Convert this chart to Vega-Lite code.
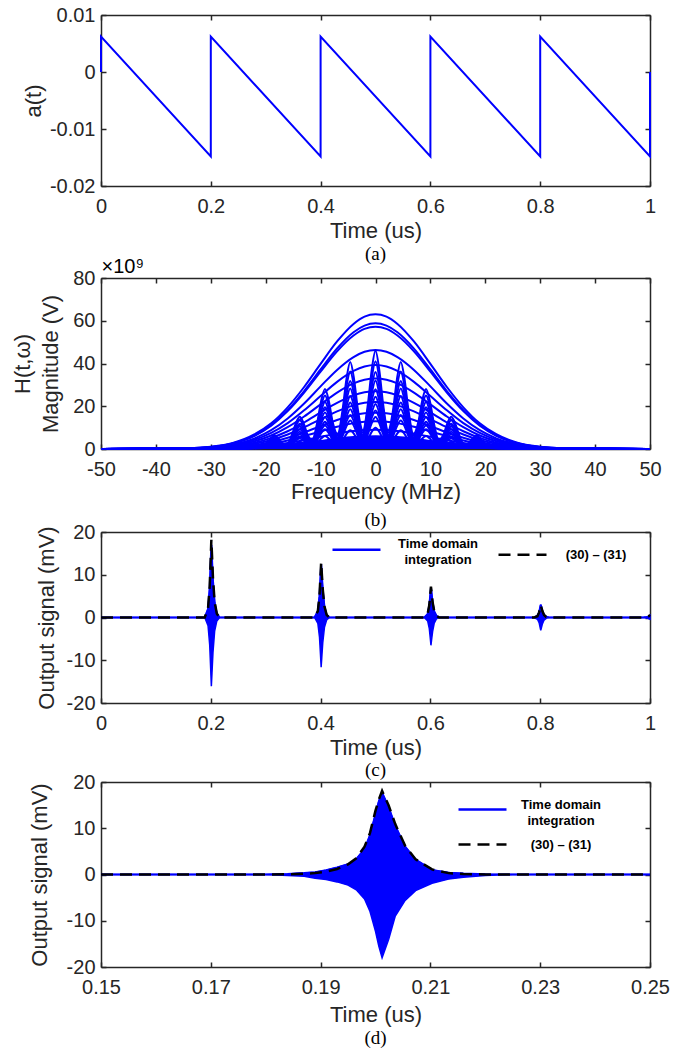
{
"$schema": "https://vega.github.io/schema/vega-lite/v6.json",
"background": "white",
"padding": {"left": 11, "top": 5, "right": 8, "bottom": 5},
"spacing": -8,
"resolve": {"scale": {"color": "independent"}, "legend": {"color": "independent"}},
"config": {
  "view": {"stroke": null},
  "font": "Liberation Sans",
  "axis": {"grid": false, "labelFont": "Liberation Sans", "labelFontSize": 20, "labelColor": "#262626", "titleFont": "Liberation Sans", "titleFontSize": 22, "titleFontWeight": "normal", "titleColor": "#262626", "domainColor": "#262626", "domainWidth": 1.5, "tickColor": "#262626", "tickWidth": 1.5, "tickSize": -5, "labelFlush": false, "labelOverlap": false, "labelBound": false},
  "axisX": {"labelPadding": 15, "titlePadding": 4},
  "axisY": {"labelPadding": 11, "titlePadding": 4},
  "title": {"orient": "bottom", "font": "Liberation Serif", "fontSize": 19, "fontWeight": "normal", "color": "#000000", "anchor": "middle", "frame": "group", "offset": 0},
  "legend": {"padding": 0, "symbolType": "stroke", "symbolSize": 2304, "symbolStrokeWidth": 2.5, "labelFont": "Liberation Sans", "labelFontSize": 13, "labelFontWeight": "bold", "labelColor": "#000000", "labelAlign": "center", "labelOffset": 56, "labelLimit": 300, "labelBaseline": "middle"}
},
"datasets": {
  "saw": [
    {"i":0,"t":0,"a":0},{"i":1,"t":0,"a":0.0062},{"i":2,"t":0.2,"a":-0.0148},{"i":3,"t":0.2,"a":0.0062},{"i":4,"t":0.4,"a":-0.0148},{"i":5,"t":0.4,"a":0.0062},{"i":6,"t":0.6,"a":-0.0148},{"i":7,"t":0.6,"a":0.0062},{"i":8,"t":0.8,"a":-0.0148},{"i":9,"t":0.8,"a":0.0062},{"i":10,"t":1,"a":-0.0148},{"i":11,"t":1,"a":0}
  ],
  "gauss": [
    {"f":-50,"g63":0,"g59":0,"g57":0,"g46":0,"g39":0,"g33":0,"g27":0,"g22":0,"g17":0,"g13":0,"g9":0,"g6":0,"g3":0},
    {"f":-34,"g63":0.3,"g59":0.3,"g57":0.3,"g46":0.2,"g39":0.2,"g33":0.2,"g27":0.1,"g22":0.1,"g17":0.1,"g13":0.1,"g9":0,"g6":0,"g3":0},
    {"f":-30,"g63":1.0,"g59":0.9,"g57":0.9,"g46":0.7,"g39":0.6,"g33":0.5,"g27":0.4,"g22":0.4,"g17":0.3,"g13":0.2,"g9":0.1,"g6":0.1,"g3":0},
    {"f":-26,"g63":2.8,"g59":2.6,"g57":2.6,"g46":2.1,"g39":1.8,"g33":1.5,"g27":1.2,"g22":1.0,"g17":0.8,"g13":0.6,"g9":0.4,"g6":0.3,"g3":0.1},
    {"f":-22,"g63":6.9,"g59":6.4,"g57":6.2,"g46":5.0,"g39":4.3,"g33":3.6,"g27":2.9,"g22":2.4,"g17":1.9,"g13":1.4,"g9":1.0,"g6":0.7,"g3":0.3},
    {"f":-19,"g63":12.0,"g59":11.2,"g57":10.9,"g46":8.8,"g39":7.5,"g33":6.3,"g27":5.2,"g22":4.2,"g17":3.2,"g13":2.5,"g9":1.7,"g6":1.1,"g3":0.6},
    {"f":-16,"g63":19.5,"g59":18.2,"g57":17.7,"g46":14.3,"g39":12.1,"g33":10.2,"g27":8.3,"g22":6.8,"g17":5.3,"g13":4.0,"g9":2.8,"g6":1.9,"g3":0.9},
    {"f":-13,"g63":29.0,"g59":27.1,"g57":26.4,"g46":21.3,"g39":18.1,"g33":15.2,"g27":12.4,"g22":10.1,"g17":7.8,"g13":6.0,"g9":4.1,"g6":2.8,"g3":1.4},
    {"f":-10,"g63":39.8,"g59":37.2,"g57":36.2,"g46":29.3,"g39":24.8,"g33":20.9,"g27":17.1,"g22":13.9,"g17":10.7,"g13":8.2,"g9":5.7,"g6":3.8,"g3":1.9},
    {"f":-7,"g63":50.3,"g59":47.0,"g57":45.7,"g46":37.0,"g39":31.4,"g33":26.4,"g27":21.6,"g22":17.6,"g17":13.6,"g13":10.4,"g9":7.2,"g6":4.8,"g3":2.4},
    {"f":-4,"g63":58.5,"g59":54.6,"g57":53.1,"g46":43.0,"g39":36.5,"g33":30.7,"g27":25.1,"g22":20.4,"g17":15.8,"g13":12.1,"g9":8.4,"g6":5.6,"g3":2.8},
    {"f":-2,"g63":61.9,"g59":57.7,"g57":56.2,"g46":45.5,"g39":38.6,"g33":32.4,"g27":26.5,"g22":21.6,"g17":16.7,"g13":12.8,"g9":8.8,"g6":5.9,"g3":2.9},
    {"f":0,"g63":63,"g59":58.8,"g57":57.2,"g46":46.3,"g39":39.3,"g33":33,"g27":27,"g22":22,"g17":17,"g13":13,"g9":9,"g6":6,"g3":3},
    {"f":2,"g63":61.9,"g59":57.7,"g57":56.2,"g46":45.5,"g39":38.6,"g33":32.4,"g27":26.5,"g22":21.6,"g17":16.7,"g13":12.8,"g9":8.8,"g6":5.9,"g3":2.9},
    {"f":4,"g63":58.5,"g59":54.6,"g57":53.1,"g46":43.0,"g39":36.5,"g33":30.7,"g27":25.1,"g22":20.4,"g17":15.8,"g13":12.1,"g9":8.4,"g6":5.6,"g3":2.8},
    {"f":7,"g63":50.3,"g59":47.0,"g57":45.7,"g46":37.0,"g39":31.4,"g33":26.4,"g27":21.6,"g22":17.6,"g17":13.6,"g13":10.4,"g9":7.2,"g6":4.8,"g3":2.4},
    {"f":10,"g63":39.8,"g59":37.2,"g57":36.2,"g46":29.3,"g39":24.8,"g33":20.9,"g27":17.1,"g22":13.9,"g17":10.7,"g13":8.2,"g9":5.7,"g6":3.8,"g3":1.9},
    {"f":13,"g63":29.0,"g59":27.1,"g57":26.4,"g46":21.3,"g39":18.1,"g33":15.2,"g27":12.4,"g22":10.1,"g17":7.8,"g13":6.0,"g9":4.1,"g6":2.8,"g3":1.4},
    {"f":16,"g63":19.5,"g59":18.2,"g57":17.7,"g46":14.3,"g39":12.1,"g33":10.2,"g27":8.3,"g22":6.8,"g17":5.3,"g13":4.0,"g9":2.8,"g6":1.9,"g3":0.9},
    {"f":19,"g63":12.0,"g59":11.2,"g57":10.9,"g46":8.8,"g39":7.5,"g33":6.3,"g27":5.2,"g22":4.2,"g17":3.2,"g13":2.5,"g9":1.7,"g6":1.1,"g3":0.6},
    {"f":22,"g63":6.9,"g59":6.4,"g57":6.2,"g46":5.0,"g39":4.3,"g33":3.6,"g27":2.9,"g22":2.4,"g17":1.9,"g13":1.4,"g9":1.0,"g6":0.7,"g3":0.3},
    {"f":26,"g63":2.8,"g59":2.6,"g57":2.6,"g46":2.1,"g39":1.8,"g33":1.5,"g27":1.2,"g22":1.0,"g17":0.8,"g13":0.6,"g9":0.4,"g6":0.3,"g3":0.1},
    {"f":30,"g63":1.0,"g59":0.9,"g57":0.9,"g46":0.7,"g39":0.6,"g33":0.5,"g27":0.4,"g22":0.4,"g17":0.3,"g13":0.2,"g9":0.1,"g6":0.1,"g3":0},
    {"f":34,"g63":0.3,"g59":0.3,"g57":0.3,"g46":0.2,"g39":0.2,"g33":0.2,"g27":0.1,"g22":0.1,"g17":0.1,"g13":0.1,"g9":0,"g6":0,"g3":0},
    {"f":50,"g63":0,"g59":0,"g57":0,"g46":0,"g39":0,"g33":0,"g27":0,"g22":0,"g17":0,"g13":0,"g9":0,"g6":0,"g3":0}
  ],
  "lobes": [
    {"f":-50,"L46":0,"L41":0,"L36":0,"L32":0,"L28":0,"L24":0,"L21":0,"L18":0,"L15":0,"L10":0},
    {"f":-25,"L46":0.4,"L41":0.35,"L36":0.3,"L32":0.3,"L28":0.2,"L24":0.2,"L21":0.2,"L18":0.2,"L15":0.1,"L10":0.1},
    {"f":-19.8,"L46":2.8,"L41":2.5,"L36":2.3,"L32":2.0,"L28":1.8,"L24":1.5,"L21":1.3,"L18":1.1,"L15":0.9,"L10":0.6},
    {"f":-19.1,"L46":5.0,"L41":4.5,"L36":4.0,"L32":3.5,"L28":3.1,"L24":2.7,"L21":2.3,"L18":2.0,"L15":1.7,"L10":1.1},
    {"f":-18.4,"L46":6.3,"L41":5.7,"L36":5.0,"L32":4.4,"L28":3.9,"L24":3.4,"L21":2.9,"L18":2.5,"L15":2.1,"L10":1.4},
    {"f":-17.7,"L46":5.0,"L41":4.5,"L36":4.0,"L32":3.5,"L28":3.1,"L24":2.7,"L21":2.3,"L18":2.0,"L15":1.7,"L10":1.1},
    {"f":-17.0,"L46":2.8,"L41":2.5,"L36":2.3,"L32":2.0,"L28":1.8,"L24":1.5,"L21":1.3,"L18":1.1,"L15":0.9,"L10":0.6},
    {"f":-16.1,"L46":2.2,"L41":1.9,"L36":1.7,"L32":1.5,"L28":1.3,"L24":1.2,"L21":1.0,"L18":0.8,"L15":0.7,"L10":0.5},
    {"f":-15.2,"L46":6.8,"L41":6.1,"L36":5.3,"L32":4.7,"L28":4.1,"L24":3.6,"L21":3.1,"L18":2.7,"L15":2.2,"L10":1.5},
    {"f":-14.5,"L46":12.1,"L41":10.8,"L36":9.4,"L32":8.4,"L28":7.4,"L24":6.4,"L21":5.5,"L18":4.7,"L15":3.9,"L10":2.6},
    {"f":-13.8,"L46":15.1,"L41":13.5,"L36":11.8,"L32":10.5,"L28":9.2,"L24":8.1,"L21":6.9,"L18":5.9,"L15":4.9,"L10":3.3},
    {"f":-13.1,"L46":12.1,"L41":10.8,"L36":9.4,"L32":8.4,"L28":7.4,"L24":6.4,"L21":5.5,"L18":4.7,"L15":3.9,"L10":2.6},
    {"f":-12.4,"L46":6.8,"L41":6.1,"L36":5.3,"L32":4.7,"L28":4.1,"L24":3.6,"L21":3.1,"L18":2.7,"L15":2.2,"L10":1.5},
    {"f":-11.5,"L46":4.3,"L41":3.9,"L36":3.4,"L32":3.0,"L28":2.6,"L24":2.3,"L21":2.0,"L18":1.7,"L15":1.4,"L10":0.9},
    {"f":-10.6,"L46":12.6,"L41":11.3,"L36":9.9,"L32":8.8,"L28":7.7,"L24":6.7,"L21":5.8,"L18":4.9,"L15":4.1,"L10":2.7},
    {"f":-9.9,"L46":22.5,"L41":20.0,"L36":17.6,"L32":15.6,"L28":13.7,"L24":12.0,"L21":10.2,"L18":8.8,"L15":7.4,"L10":4.9},
    {"f":-9.2,"L46":28.1,"L41":25.0,"L36":22.0,"L32":19.5,"L28":17.1,"L24":14.9,"L21":12.8,"L18":11.0,"L15":9.2,"L10":6.1},
    {"f":-8.5,"L46":22.5,"L41":20.0,"L36":17.6,"L32":15.6,"L28":13.7,"L24":12.0,"L21":10.2,"L18":8.8,"L15":7.4,"L10":4.9},
    {"f":-7.8,"L46":12.6,"L41":11.3,"L36":9.9,"L32":8.8,"L28":7.7,"L24":6.7,"L21":5.8,"L18":4.9,"L15":4.1,"L10":2.7},
    {"f":-6.9,"L46":6.9,"L41":6.1,"L36":5.4,"L32":4.8,"L28":4.2,"L24":3.7,"L21":3.1,"L18":2.7,"L15":2.2,"L10":1.5},
    {"f":-6.0,"L46":18.3,"L41":16.3,"L36":14.3,"L32":12.7,"L28":11.2,"L24":9.8,"L21":8.4,"L18":7.2,"L15":6.0,"L10":4.0},
    {"f":-5.3,"L46":32.6,"L41":29.0,"L36":25.4,"L32":22.6,"L28":19.8,"L24":17.3,"L21":14.9,"L18":12.7,"L15":10.6,"L10":7.0},
    {"f":-4.6,"L46":40.7,"L41":36.2,"L36":31.8,"L32":28.3,"L28":24.8,"L24":21.7,"L21":18.6,"L18":15.9,"L15":13.3,"L10":8.8},
    {"f":-3.9,"L46":32.6,"L41":29.0,"L36":25.4,"L32":22.6,"L28":19.8,"L24":17.3,"L21":14.9,"L18":12.7,"L15":10.6,"L10":7.0},
    {"f":-3.2,"L46":18.3,"L41":16.3,"L36":14.3,"L32":12.7,"L28":11.2,"L24":9.8,"L21":8.4,"L18":7.2,"L15":6.0,"L10":4.0},
    {"f":-2.3,"L46":8.7,"L41":7.7,"L36":6.8,"L32":6.0,"L28":5.3,"L24":4.6,"L21":3.9,"L18":3.4,"L15":2.8,"L10":1.9},
    {"f":-1.4,"L46":20.7,"L41":18.5,"L36":16.2,"L32":14.4,"L28":12.6,"L24":11.0,"L21":9.5,"L18":8.1,"L15":6.8,"L10":4.5},
    {"f":-0.7,"L46":36.8,"L41":32.8,"L36":28.8,"L32":25.6,"L28":22.4,"L24":19.6,"L21":16.8,"L18":14.4,"L15":12,"L10":8},
    {"f":0,"L46":46,"L41":41,"L36":36,"L32":32,"L28":28,"L24":24.5,"L21":21,"L18":18,"L15":15,"L10":10},
    {"f":0.7,"L46":36.8,"L41":32.8,"L36":28.8,"L32":25.6,"L28":22.4,"L24":19.6,"L21":16.8,"L18":14.4,"L15":12,"L10":8},
    {"f":1.4,"L46":20.7,"L41":18.5,"L36":16.2,"L32":14.4,"L28":12.6,"L24":11.0,"L21":9.5,"L18":8.1,"L15":6.8,"L10":4.5},
    {"f":2.3,"L46":8.7,"L41":7.7,"L36":6.8,"L32":6.0,"L28":5.3,"L24":4.6,"L21":3.9,"L18":3.4,"L15":2.8,"L10":1.9},
    {"f":3.2,"L46":18.3,"L41":16.3,"L36":14.3,"L32":12.7,"L28":11.2,"L24":9.8,"L21":8.4,"L18":7.2,"L15":6.0,"L10":4.0},
    {"f":3.9,"L46":32.6,"L41":29.0,"L36":25.4,"L32":22.6,"L28":19.8,"L24":17.3,"L21":14.9,"L18":12.7,"L15":10.6,"L10":7.0},
    {"f":4.6,"L46":40.7,"L41":36.2,"L36":31.8,"L32":28.3,"L28":24.8,"L24":21.7,"L21":18.6,"L18":15.9,"L15":13.3,"L10":8.8},
    {"f":5.3,"L46":32.6,"L41":29.0,"L36":25.4,"L32":22.6,"L28":19.8,"L24":17.3,"L21":14.9,"L18":12.7,"L15":10.6,"L10":7.0},
    {"f":6.0,"L46":18.3,"L41":16.3,"L36":14.3,"L32":12.7,"L28":11.2,"L24":9.8,"L21":8.4,"L18":7.2,"L15":6.0,"L10":4.0},
    {"f":6.9,"L46":6.9,"L41":6.1,"L36":5.4,"L32":4.8,"L28":4.2,"L24":3.7,"L21":3.1,"L18":2.7,"L15":2.2,"L10":1.5},
    {"f":7.8,"L46":12.6,"L41":11.3,"L36":9.9,"L32":8.8,"L28":7.7,"L24":6.7,"L21":5.8,"L18":4.9,"L15":4.1,"L10":2.7},
    {"f":8.5,"L46":22.5,"L41":20.0,"L36":17.6,"L32":15.6,"L28":13.7,"L24":12.0,"L21":10.2,"L18":8.8,"L15":7.4,"L10":4.9},
    {"f":9.2,"L46":28.1,"L41":25.0,"L36":22.0,"L32":19.5,"L28":17.1,"L24":14.9,"L21":12.8,"L18":11.0,"L15":9.2,"L10":6.1},
    {"f":9.9,"L46":22.5,"L41":20.0,"L36":17.6,"L32":15.6,"L28":13.7,"L24":12.0,"L21":10.2,"L18":8.8,"L15":7.4,"L10":4.9},
    {"f":10.6,"L46":12.6,"L41":11.3,"L36":9.9,"L32":8.8,"L28":7.7,"L24":6.7,"L21":5.8,"L18":4.9,"L15":4.1,"L10":2.7},
    {"f":11.5,"L46":4.3,"L41":3.9,"L36":3.4,"L32":3.0,"L28":2.6,"L24":2.3,"L21":2.0,"L18":1.7,"L15":1.4,"L10":0.9},
    {"f":12.4,"L46":6.8,"L41":6.1,"L36":5.3,"L32":4.7,"L28":4.1,"L24":3.6,"L21":3.1,"L18":2.7,"L15":2.2,"L10":1.5},
    {"f":13.1,"L46":12.1,"L41":10.8,"L36":9.4,"L32":8.4,"L28":7.4,"L24":6.4,"L21":5.5,"L18":4.7,"L15":3.9,"L10":2.6},
    {"f":13.8,"L46":15.1,"L41":13.5,"L36":11.8,"L32":10.5,"L28":9.2,"L24":8.1,"L21":6.9,"L18":5.9,"L15":4.9,"L10":3.3},
    {"f":14.5,"L46":12.1,"L41":10.8,"L36":9.4,"L32":8.4,"L28":7.4,"L24":6.4,"L21":5.5,"L18":4.7,"L15":3.9,"L10":2.6},
    {"f":15.2,"L46":6.8,"L41":6.1,"L36":5.3,"L32":4.7,"L28":4.1,"L24":3.6,"L21":3.1,"L18":2.7,"L15":2.2,"L10":1.5},
    {"f":16.1,"L46":2.2,"L41":1.9,"L36":1.7,"L32":1.5,"L28":1.3,"L24":1.2,"L21":1.0,"L18":0.8,"L15":0.7,"L10":0.5},
    {"f":17.0,"L46":2.8,"L41":2.5,"L36":2.3,"L32":2.0,"L28":1.8,"L24":1.5,"L21":1.3,"L18":1.1,"L15":0.9,"L10":0.6},
    {"f":17.7,"L46":5.0,"L41":4.5,"L36":4.0,"L32":3.5,"L28":3.1,"L24":2.7,"L21":2.3,"L18":2.0,"L15":1.7,"L10":1.1},
    {"f":18.4,"L46":6.3,"L41":5.7,"L36":5.0,"L32":4.4,"L28":3.9,"L24":3.4,"L21":2.9,"L18":2.5,"L15":2.1,"L10":1.4},
    {"f":19.1,"L46":5.0,"L41":4.5,"L36":4.0,"L32":3.5,"L28":3.1,"L24":2.7,"L21":2.3,"L18":2.0,"L15":1.7,"L10":1.1},
    {"f":19.8,"L46":2.8,"L41":2.5,"L36":2.3,"L32":2.0,"L28":1.8,"L24":1.5,"L21":1.3,"L18":1.1,"L15":0.9,"L10":0.6},
    {"f":25,"L46":0.4,"L41":0.35,"L36":0.3,"L32":0.3,"L28":0.2,"L24":0.2,"L21":0.2,"L18":0.2,"L15":0.1,"L10":0.1},
    {"f":50,"L46":0,"L41":0,"L36":0,"L32":0,"L28":0,"L24":0,"L21":0,"L18":0,"L15":0,"L10":0}
  ],
  "cdata": [
    {"t":0,"up":0,"lo":0,"env":0},
    {"t":0.189,"up":0,"lo":0,"env":0},
    {"t":0.195,"up":2.0,"lo":-1.9,"env":2.2},
    {"t":0.198,"up":6.8,"lo":-6.4,"env":7.3},
    {"t":0.1998,"up":12.8,"lo":-12.1,"env":13.7},
    {"t":0.201,"up":17,"lo":-16.1,"env":18.2},
    {"t":0.2022,"up":13.6,"lo":-12.9,"env":14.6},
    {"t":0.204,"up":8.5,"lo":-8.1,"env":9.1},
    {"t":0.207,"up":3.4,"lo":-3.2,"env":3.6},
    {"t":0.211,"up":0.9,"lo":-0.8,"env":0.9},
    {"t":0.216,"up":0,"lo":0,"env":0},
    {"t":0.389,"up":0,"lo":0,"env":0},
    {"t":0.395,"up":1.5,"lo":-1.4,"env":1.5},
    {"t":0.398,"up":5.0,"lo":-4.6,"env":5.2},
    {"t":0.3998,"up":9.4,"lo":-8.7,"env":9.7},
    {"t":0.401,"up":12.5,"lo":-11.6,"env":12.9},
    {"t":0.4022,"up":10.0,"lo":-9.3,"env":10.3},
    {"t":0.404,"up":6.3,"lo":-5.8,"env":6.5},
    {"t":0.407,"up":2.5,"lo":-2.3,"env":2.6},
    {"t":0.411,"up":0.6,"lo":-0.6,"env":0.6},
    {"t":0.416,"up":0,"lo":0,"env":0},
    {"t":0.589,"up":0,"lo":0,"env":0},
    {"t":0.595,"up":0.8,"lo":-0.8,"env":0.9},
    {"t":0.598,"up":2.8,"lo":-2.6,"env":2.9},
    {"t":0.5998,"up":5.3,"lo":-4.9,"env":5.4},
    {"t":0.601,"up":7.0,"lo":-6.5,"env":7.2},
    {"t":0.6022,"up":5.6,"lo":-5.2,"env":5.8},
    {"t":0.604,"up":3.5,"lo":-3.3,"env":3.6},
    {"t":0.607,"up":1.4,"lo":-1.3,"env":1.4},
    {"t":0.611,"up":0.4,"lo":-0.3,"env":0.4},
    {"t":0.616,"up":0,"lo":0,"env":0},
    {"t":0.789,"up":0,"lo":0,"env":0},
    {"t":0.795,"up":0.4,"lo":-0.4,"env":0.3},
    {"t":0.798,"up":1.2,"lo":-1.2,"env":1.2},
    {"t":0.7998,"up":2.3,"lo":-2.3,"env":2.2},
    {"t":0.801,"up":3.0,"lo":-3.0,"env":2.9},
    {"t":0.8022,"up":2.4,"lo":-2.4,"env":2.3},
    {"t":0.804,"up":1.5,"lo":-1.5,"env":1.5},
    {"t":0.807,"up":0.6,"lo":-0.6,"env":0.6},
    {"t":0.811,"up":0.2,"lo":-0.2,"env":0.1},
    {"t":0.816,"up":0,"lo":0,"env":0},
    {"t":0.988,"up":0,"lo":0,"env":0},
    {"t":0.994,"up":0.1,"lo":-0.1,"env":0.1},
    {"t":0.997,"up":0.2,"lo":-0.2,"env":0.25},
    {"t":0.9988,"up":0.4,"lo":-0.35,"env":0.45},
    {"t":1,"up":0.5,"lo":-0.4,"env":0.6}
  ],
  "ddata": [
    {"t":0.15,"up":0,"lo":0,"env":0},
    {"t":0.18,"up":0,"lo":0,"env":0},
    {"t":0.184,"up":0.1,"lo":-0.2,"env":0.05},
    {"t":0.187,"up":0.3,"lo":-0.4,"env":0.15},
    {"t":0.189,"up":0.5,"lo":-0.8,"env":0.3},
    {"t":0.191,"up":0.9,"lo":-1.1,"env":0.6},
    {"t":0.193,"up":1.5,"lo":-1.6,"env":1.2},
    {"t":0.195,"up":2.2,"lo":-2.3,"env":2.2},
    {"t":0.1965,"up":3.3,"lo":-3.3,"env":3.5},
    {"t":0.198,"up":5.5,"lo":-5.3,"env":6.0},
    {"t":0.199,"up":8.5,"lo":-8.0,"env":9.0},
    {"t":0.2,"up":13,"lo":-12.3,"env":13.8},
    {"t":0.2006,"up":15.8,"lo":-15.5,"env":16.2},
    {"t":0.2012,"up":17.7,"lo":-18,"env":18.1},
    {"t":0.2024,"up":14.5,"lo":-14,"env":14.9},
    {"t":0.2036,"up":10.5,"lo":-9,"env":10.9},
    {"t":0.2054,"up":6.0,"lo":-5.6,"env":6.2},
    {"t":0.2073,"up":3.2,"lo":-3.5,"env":3.3},
    {"t":0.2103,"up":1.0,"lo":-1.9,"env":1.1},
    {"t":0.2133,"up":0.4,"lo":-1.0,"env":0.3},
    {"t":0.216,"up":0.2,"lo":-0.6,"env":0.1},
    {"t":0.22,"up":0.05,"lo":-0.2,"env":0},
    {"t":0.225,"up":0,"lo":0,"env":0},
    {"t":0.25,"up":0,"lo":0,"env":0}
  ]
},
"vconcat": [
  {
    "width": 549, "height": 171,
    "title": {"text": "(a)", "offset": 4},
    "data": {"name": "saw"},
    "resolve": {"axis": {"x": "independent", "y": "independent"}},
    "layer": [
      {"mark": {"type": "line", "color": "#0000ff", "strokeWidth": 2},
       "encoding": {
         "x": {"field": "t", "type": "quantitative", "scale": {"domain": [0, 1], "nice": false, "zero": false},
               "axis": {"orient": "bottom", "values": [0, 0.2, 0.4, 0.6, 0.8, 1], "labelExpr": "'' + datum.value", "title": "Time (us)"}},
         "y": {"field": "a", "type": "quantitative", "scale": {"domain": [-0.02, 0.01], "nice": false, "zero": false},
               "axis": {"orient": "left", "values": [-0.02, -0.01, 0, 0.01], "labelExpr": "'' + datum.value", "title": "a(t)"}},
         "order": {"field": "i"}
       }},
      {"mark": {"type": "line", "opacity": 0},
       "encoding": {
         "x": {"field": "t", "type": "quantitative", "scale": {"domain": [0, 1], "nice": false, "zero": false},
               "axis": {"orient": "top", "values": [0, 0.2, 0.4, 0.6, 0.8, 1], "labels": false, "title": null}},
         "y": {"field": "a", "type": "quantitative", "scale": {"domain": [-0.02, 0.01], "nice": false, "zero": false},
               "axis": {"orient": "right", "values": [-0.02, -0.01, 0, 0.01], "labels": false, "title": null}},
         "order": {"field": "i"}
       }}
    ]
  },
  {
    "width": 549, "height": 171,
    "title": {"text": "(b)", "offset": 9},
    "resolve": {"axis": {"x": "independent", "y": "independent"}},
    "layer": [
      {"data": {"name": "gauss"},
       "mark": {"type": "area", "color": "#0000ff", "interpolate": "monotone"},
       "encoding": {
         "x": {"field": "f", "type": "quantitative", "scale": {"domain": [-50, 50], "nice": false, "zero": false},
               "axis": {"orient": "bottom", "values": [-50, -40, -30, -20, -10, 0, 10, 20, 30, 40, 50], "labelExpr": "'' + datum.value", "title": "Frequency (MHz)", "titlePadding": 2}},
         "y": {"field": "g6", "type": "quantitative", "scale": {"domain": [0, 80], "nice": false, "zero": false},
               "axis": {"orient": "left", "values": [0, 20, 40, 60, 80], "labelExpr": "'' + datum.value", "title": ["H(t,ω)", "Magnitude (V)"], "titleLineHeight": 28, "titlePadding": 10}}
       }},
      {"data": {"name": "gauss"},
       "transform": [{"fold": ["g63", "g59", "g57", "g46", "g39", "g33", "g27", "g22", "g17", "g13", "g9", "g6", "g3"], "as": ["k", "v"]}],
       "mark": {"type": "line", "color": "#0000ff", "strokeWidth": 2, "interpolate": "monotone"},
       "encoding": {
         "x": {"field": "f", "type": "quantitative", "scale": {"domain": [-50, 50], "nice": false, "zero": false}, "axis": null},
         "y": {"field": "v", "type": "quantitative", "scale": {"domain": [0, 80], "nice": false, "zero": false}, "axis": null},
         "detail": {"field": "k"}
       }},
      {"data": {"name": "lobes"},
       "transform": [{"fold": ["L46", "L41", "L36", "L32", "L28", "L24", "L21", "L18", "L15", "L10"], "as": ["k", "v"]}],
       "mark": {"type": "line", "color": "#0000ff", "strokeWidth": 2, "interpolate": "monotone"},
       "encoding": {
         "x": {"field": "f", "type": "quantitative", "scale": {"domain": [-50, 50], "nice": false, "zero": false},
               "axis": {"orient": "top", "values": [-50, -40, -30, -20, -10, 0, 10, 20, 30, 40, 50], "labels": false, "title": "×10⁹", "titleAnchor": "start", "titleAlign": "left", "titleAngle": 0, "titleBaseline": "bottom", "titleFontSize": 20, "titleColor": "#000000", "titlePadding": 1}},
         "y": {"field": "v", "type": "quantitative", "scale": {"domain": [0, 80], "nice": false, "zero": false},
               "axis": {"orient": "right", "values": [0, 20, 40, 60, 80], "labels": false, "title": null}},
         "detail": {"field": "k"}
       }}
    ]
  },
  {
    "width": 549, "height": 171,
    "title": {"text": "(c)", "offset": 3},
    "data": {"name": "cdata"},
    "resolve": {"axis": {"x": "independent", "y": "independent"}},
    "layer": [
      {"mark": {"type": "area", "color": "#0000ff", "stroke": "#0000ff", "strokeWidth": 1.5},
       "encoding": {
         "x": {"field": "t", "type": "quantitative", "scale": {"domain": [0, 1], "nice": false, "zero": false},
               "axis": {"orient": "bottom", "values": [0, 0.2, 0.4, 0.6, 0.8, 1], "labelExpr": "'' + datum.value", "title": "Time (us)"}},
         "y": {"field": "up", "type": "quantitative", "scale": {"domain": [-20, 20], "nice": false, "zero": false},
               "axis": {"orient": "left", "values": [-20, -10, 0, 10, 20], "labelExpr": "'' + datum.value", "title": "Output signal (mV)", "titlePadding": 8}},
         "y2": {"field": "lo"}
       }},
      {"mark": {"type": "line", "strokeWidth": 2},
       "encoding": {
         "x": {"field": "t", "type": "quantitative", "scale": {"domain": [0, 1], "nice": false, "zero": false}, "axis": null},
         "y": {"field": "up", "type": "quantitative", "scale": {"domain": [-20, 20], "nice": false, "zero": false}, "axis": null},
         "color": {"datum": "Time domain integration", "scale": {"domain": ["Time domain integration", "(30) – (31)"], "range": ["#0000ff", "#000000"]},
                   "legend": {"title": null, "orient": "none", "legendX": 230, "legendY": -8, "direction": "horizontal", "columnPadding": 15,
                              "labelExpr": "datum.label == 'Time domain integration' ? ['Time domain', 'integration'] : datum.label",
                              "encode": {"symbols": {"update": {"strokeDash": {"signal": "datum.value == '(30) – (31)' ? [12, 7] : [1, 0]"}}},
                                         "labels": {"update": {"lineHeight": {"value": 16},
                                                               "dy": {"signal": "datum.value == 'Time domain integration' ? -6 : 0"},
                                                               "dx": {"signal": "datum.value == '(30) – (31)' ? -8 : 0"}}}}}}
       }},
      {"mark": {"type": "line", "strokeWidth": 2.5, "strokeDash": [12, 7]},
       "encoding": {
         "x": {"field": "t", "type": "quantitative", "scale": {"domain": [0, 1], "nice": false, "zero": false},
               "axis": {"orient": "top", "values": [0, 0.2, 0.4, 0.6, 0.8, 1], "labels": false, "title": null}},
         "y": {"field": "env", "type": "quantitative", "scale": {"domain": [-20, 20], "nice": false, "zero": false},
               "axis": {"orient": "right", "values": [-20, -10, 0, 10, 20], "labels": false, "title": null}},
         "color": {"datum": "(30) – (31)"}
       }}
    ]
  },
  {
    "width": 549, "height": 185,
    "title": "(d)",
    "data": {"name": "ddata"},
    "resolve": {"axis": {"x": "independent", "y": "independent"}},
    "layer": [
      {"mark": {"type": "area", "color": "#0000ff", "stroke": "#0000ff", "strokeWidth": 1.5},
       "encoding": {
         "x": {"field": "t", "type": "quantitative", "scale": {"domain": [0.15, 0.25], "nice": false, "zero": false},
               "axis": {"orient": "bottom", "values": [0.15, 0.17, 0.19, 0.21, 0.23, 0.25], "labelExpr": "'' + datum.value", "title": "Time (us)", "titlePadding": 7}},
         "y": {"field": "up", "type": "quantitative", "scale": {"domain": [-20, 20], "nice": false, "zero": false},
               "axis": {"orient": "left", "values": [-20, -10, 0, 10, 20], "labelExpr": "'' + datum.value", "title": "Output signal (mV)", "titlePadding": 15}},
         "y2": {"field": "lo"}
       }},
      {"mark": {"type": "line", "strokeWidth": 2},
       "encoding": {
         "x": {"field": "t", "type": "quantitative", "scale": {"domain": [0.15, 0.25], "nice": false, "zero": false}, "axis": null},
         "y": {"field": "up", "type": "quantitative", "scale": {"domain": [-20, 20], "nice": false, "zero": false}, "axis": null},
         "color": {"datum": "Time domain integration", "scale": {"domain": ["Time domain integration", "(30) – (31)"], "range": ["#0000ff", "#000000"]},
                   "legend": {"title": null, "orient": "none", "legendX": 372, "legendY": 18, "direction": "vertical", "rowPadding": 7,
                              "symbolType": "M-3,0H3", "symbolSize": 256, "labelOffset": 69,
                              "labelExpr": "datum.label == 'Time domain integration' ? ['Time domain', 'integration'] : datum.label",
                              "encode": {"symbols": {"update": {"strokeDash": {"signal": "datum.value == '(30) – (31)' ? [12, 7] : [1, 0]"}}},
                                         "labels": {"update": {"lineHeight": {"value": 16},
                                                               "dy": {"signal": "datum.value == 'Time domain integration' ? -5 : 0"}}}}}}
       }},
      {"mark": {"type": "line", "strokeWidth": 2.5, "strokeDash": [12, 7]},
       "encoding": {
         "x": {"field": "t", "type": "quantitative", "scale": {"domain": [0.15, 0.25], "nice": false, "zero": false},
               "axis": {"orient": "top", "values": [0.15, 0.17, 0.19, 0.21, 0.23, 0.25], "labels": false, "title": null}},
         "y": {"field": "env", "type": "quantitative", "scale": {"domain": [-20, 20], "nice": false, "zero": false},
               "axis": {"orient": "right", "values": [-20, -10, 0, 10, 20], "labels": false, "title": null}},
         "color": {"datum": "(30) – (31)"}
       }}
    ]
  }
]
}
